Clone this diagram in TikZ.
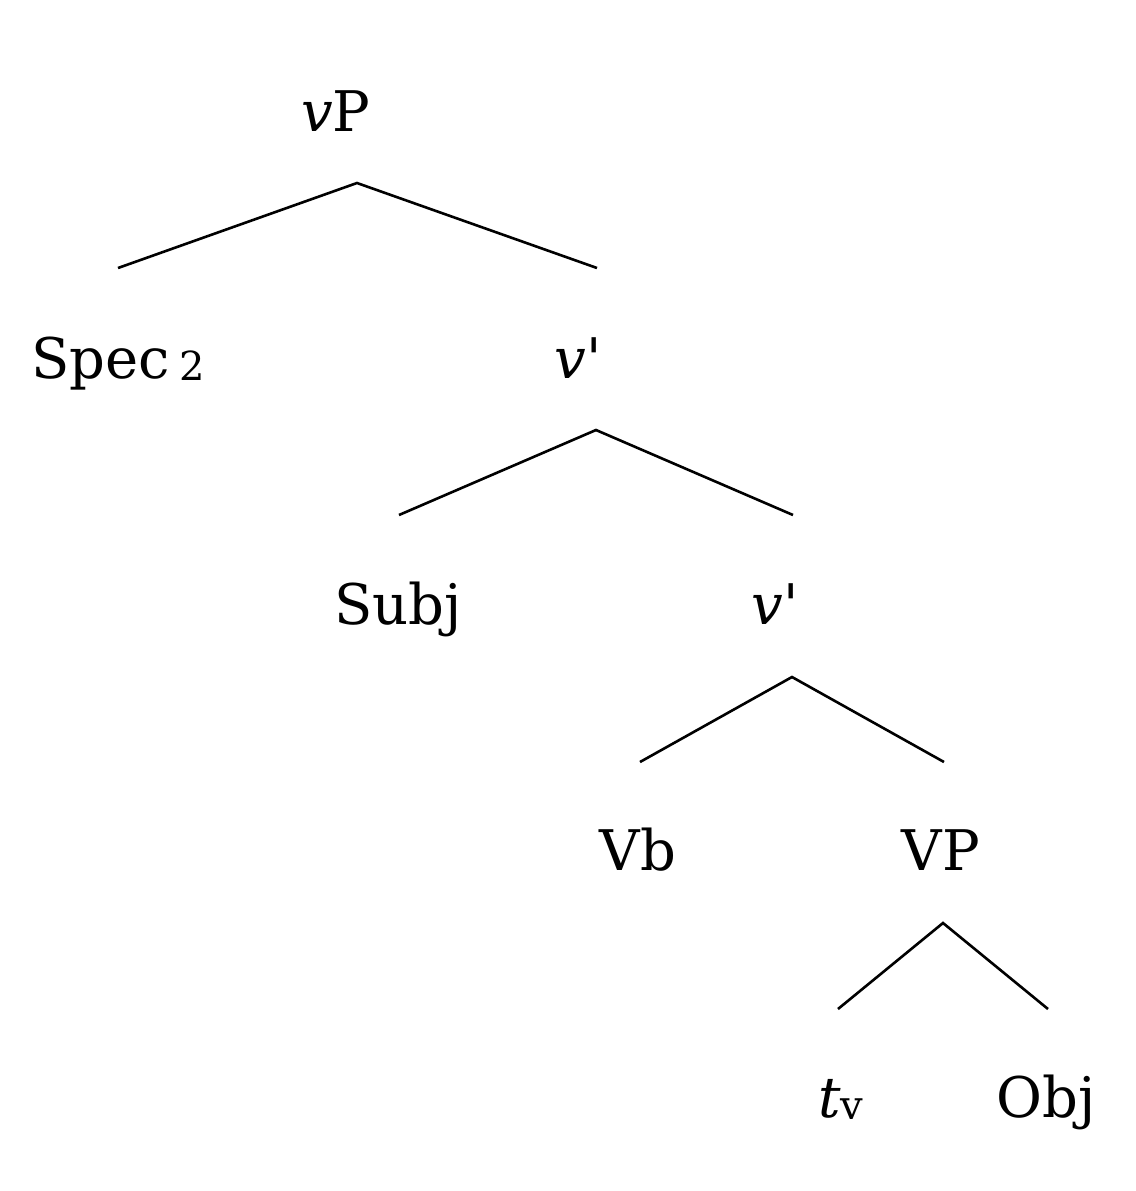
\documentclass[tikz,border=0pt]{standalone}
\usepackage{fontspec}
\setmainfont{DejaVu Serif}
\newfontfamily\plainserif{DejaVu Serif}
\newcommand{\myprime}{{\plainserif\char"27}}
\begin{document}
\begin{tikzpicture}[x=0.5pt,y=-0.5pt,
  lbl/.style={anchor=base,inner sep=0pt,font=\fontsize{28}{32}\selectfont},
  edge/.style={line width=1.3pt}]
\useasboundingbox (0,0) rectangle (1136,1191);
% labels
\node[lbl] (vP) at (336,131) {\textit{v}P};
\node[lbl] (spec) at (118,378) {Spec\,\raisebox{-0.1ex}{\fontsize{20}{24}\selectfont 2}};
\node[lbl] (vb1) at (578,378) {\textit{v}\myprime};
\node[lbl] (subj) at (398,624) {Subj};
\node[lbl] (vb2) at (775,624) {\textit{v}\myprime};
\node[lbl] (vb) at (638,870) {Vb};
\node[lbl] (VP) at (941,870) {VP};
\node[lbl] (tv) at (841,1117) {\textit{t}\raisebox{-0.1ex}{\fontsize{20}{24}\selectfont v}};
\node[lbl] (obj) at (1046,1117) {Obj};
% connector end points
\coordinate (a0) at (357,183);
\coordinate (a0l) at (118,268);
\coordinate (a0r) at (597,268);
\coordinate (a1) at (596,430);
\coordinate (a1l) at (399,515);
\coordinate (a1r) at (793,515);
\coordinate (a2) at (792,677);
\coordinate (a2l) at (640,762);
\coordinate (a2r) at (944,762);
\coordinate (a3) at (943,923);
\coordinate (a3l) at (838,1009);
\coordinate (a3r) at (1048,1009);
\draw[edge] (a0l) -- (a0) -- (a0r);
\draw[edge] (a1l) -- (a1) -- (a1r);
\draw[edge] (a2l) -- (a2) -- (a2r);
\draw[edge] (a3l) -- (a3) -- (a3r);
\end{tikzpicture}
\end{document}
